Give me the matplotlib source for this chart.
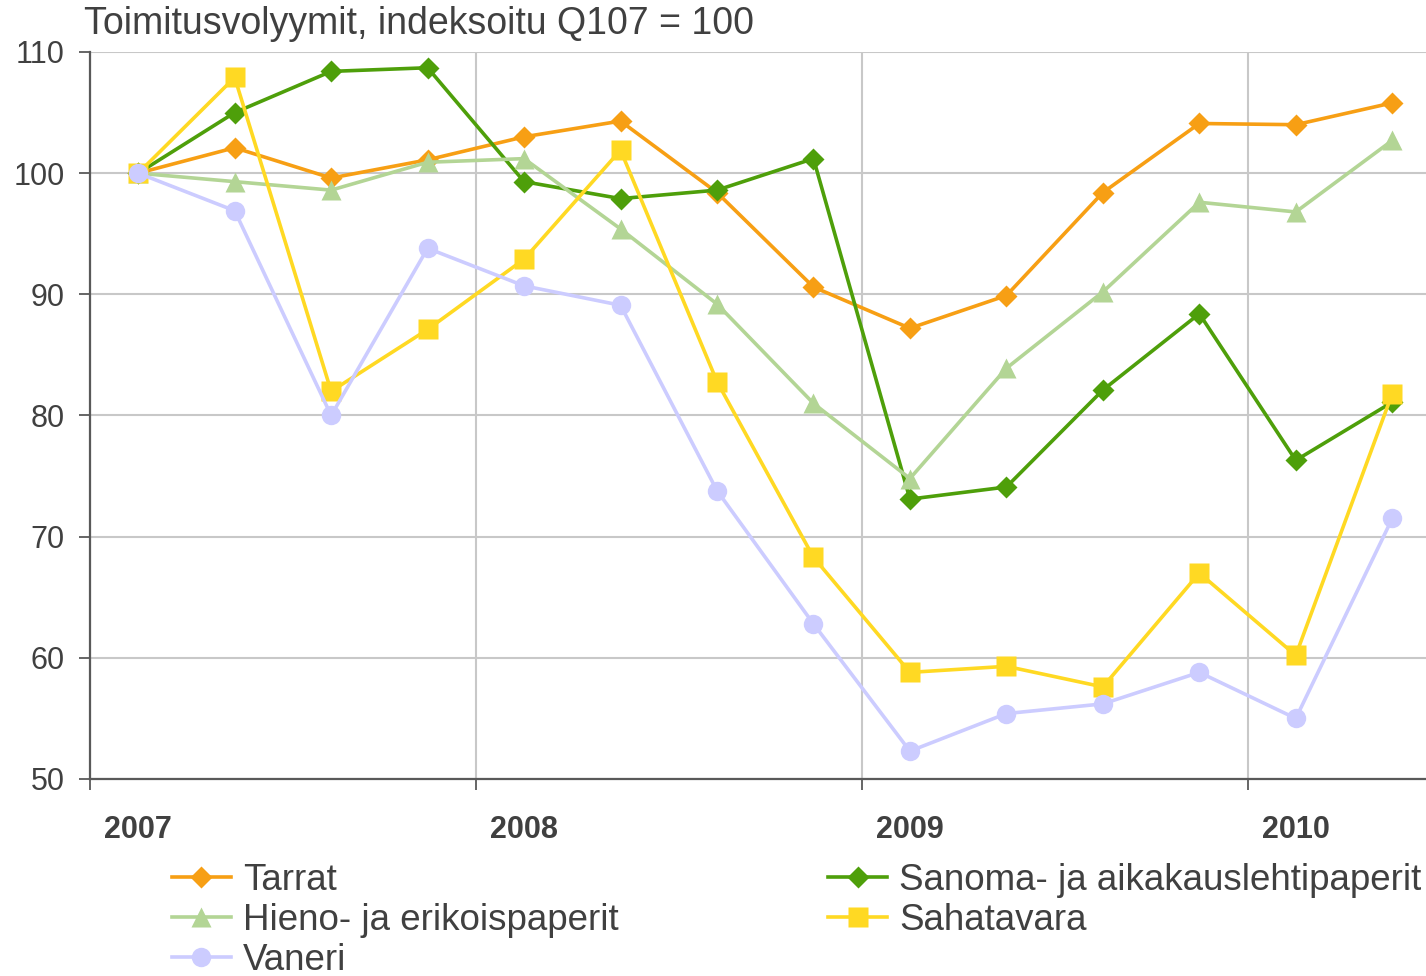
import matplotlib
matplotlib.use("Agg")
import matplotlib.pyplot as plt

plt.rcParams['font.family'] = ['Liberation Sans', 'DejaVu Sans']

# neljännekset Q1/2007 - Q2/2010
quarters = list(range(14))
years = ['2007', '2008', '2009', '2010']

tarrat = [100, 102.1, 99.6, 101.1, 103.0, 104.3, 98.4, 90.6, 87.2, 89.9, 98.4, 104.1, 104.0, 105.8]
sanoma = [100, 105.0, 108.4, 108.7, 99.3, 97.9, 98.6, 101.2, 73.1, 74.1, 82.1, 88.4, 76.3, 81.1]
hieno = [100, 99.3, 98.6, 100.9, 101.2, 95.4, 89.2, 81.0, 74.8, 83.9, 90.2, 97.6, 96.8, 102.7]
sahatavara = [100, 107.9, 82.0, 87.1, 92.9, 101.9, 82.8, 68.3, 58.8, 59.3, 57.6, 67.0, 60.2, 81.8]
vaneri = [100, 96.9, 80.0, 93.8, 90.7, 89.1, 73.8, 62.8, 52.3, 55.4, 56.2, 58.8, 55.0, 71.5]

text_col = '#404040'
axis_col = '#595959'
grid_col = '#c8c8c8'

fig = plt.figure(figsize=(14.26, 9.76), dpi=100)
ax = fig.add_axes([90 / 1426, 1 - 779 / 976, 1 - 90 / 1426, 727 / 976])

lw = 2.6
l_tarrat, = ax.plot(quarters, tarrat, color='#F79F14', lw=lw, marker='D', ms=11, mec='none', label='Tarrat')
l_sanoma, = ax.plot(quarters, sanoma, color='#4E9F0A', lw=lw, marker='D', ms=11, mec='none',
                    label='Sanoma- ja aikakauslehtipaperit')
l_hieno, = ax.plot(quarters, hieno, color='#B3D595', lw=lw, marker='^', ms=15, mec='none',
                   label='Hieno- ja erikoispaperit')
l_saha, = ax.plot(quarters, sahatavara, color='#FFD923', lw=lw, marker='s', ms=14, mec='none', label='Sahatavara')
l_vaneri, = ax.plot(quarters, vaneri, color='#CCCCFF', lw=lw, marker='o', ms=14, mec='none', label='Vaneri')

ax.set_ylim(50, 110)
ax.set_xlim(-0.5, 13.35)
ax.set_yticks(range(50, 111, 10))

# vuosirajat isoina tikkeinä, vuosiluvut pieninä tikkeinä
ax.set_xticks([-0.5, 3.5, 7.5, 11.5])
ax.set_xticklabels([])
ax.set_xticks([0, 4, 8, 12], minor=True)
ax.set_xticklabels(years, minor=True, fontweight='bold', fontsize=22, color=text_col)
ax.tick_params(axis='x', which='major', length=8, width=1.3, color=axis_col, direction='out')
ax.tick_params(axis='x', which='minor', length=0, pad=26)
ax.tick_params(axis='y', length=8, width=1.3, color=axis_col, labelsize=22, labelcolor=text_col, pad=10)

ax.grid(True, which='major', color=grid_col, lw=1.5)
ax.set_axisbelow(True)
for s in ['top', 'right']:
    ax.spines[s].set_visible(False)
for s in ['left', 'bottom']:
    ax.spines[s].set_color(axis_col)
    ax.spines[s].set_linewidth(1.6)

fig.text(84 / 1426, 1 - 24 / 976, 'Toimitusvolyymit, indeksoitu Q107 = 100', fontsize=27,
         color=text_col, va='center', ha='left')

handles = [l_tarrat, l_hieno, l_vaneri, l_sanoma, l_saha]
leg = fig.legend(handles=handles, labels=[h.get_label() for h in handles], ncol=2,
                 loc='upper left', bbox_to_anchor=(172 / 1426, 1 - 863 / 976),
                 frameon=False, fontsize=26.5, handlelength=1.6, handletextpad=0.33,
                 columnspacing=5.7, labelspacing=0.13, borderpad=0, borderaxespad=0)
for t in leg.get_texts():
    t.set_color(text_col)

fig.savefig('out.png', dpi=100)
